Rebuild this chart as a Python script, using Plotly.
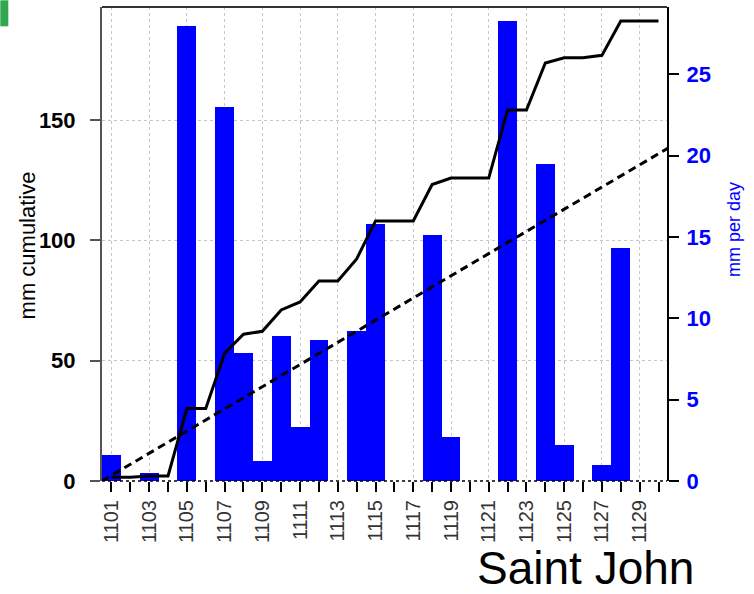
import plotly.graph_objects as go

# ---- data ----
days = [1101, 1102, 1103, 1104, 1105, 1106, 1107, 1108, 1109, 1110,
        1111, 1112, 1113, 1114, 1115, 1116, 1117, 1118, 1119, 1120,
        1121, 1122, 1123, 1124, 1125, 1126, 1127, 1128, 1129, 1130]
daily_mm = [1.6, 0, 0.5, 0, 28.0, 0, 23.0, 7.9, 1.2, 8.9,
            3.3, 8.7, 0, 9.2, 15.8, 0, 0, 15.1, 2.7, 0,
            0, 28.3, 0, 19.5, 2.2, 0, 1.0, 14.3, 0, 0]
cumulative_mm = [1.6, 1.6, 2.1, 2.1, 30.1, 30.1, 53.1, 61.0, 62.2, 71.1,
                 74.4, 83.1, 83.1, 92.3, 108.1, 108.1, 108.1, 123.2, 125.9, 125.9,
                 125.9, 154.2, 154.2, 173.7, 175.9, 175.9, 176.9, 191.2, 191.2, 191.2]
normal_days = [1100.5, 1130.5]
normal_cum = [0, 138.3]
label_days = [1101, 1103, 1105, 1107, 1109, 1111, 1113, 1115, 1117, 1119,
              1121, 1123, 1125, 1127, 1129]
label_text = ["1101", "1103", "1105", "1107", "1109", "1111", "1113", "1115",
              "1117", "1119", "1121", "1123", "1125", "1127", "1129"]
left_ticks = [0, 50, 100, 150]
right_ticks = [0, 5, 10, 15, 20, 25]

FONT = "Liberation Sans, Arial, sans-serif"

fig = go.Figure()
fig.add_trace(go.Bar(x=days, y=daily_mm, width=1.0, marker=dict(color="#0000ff", line=dict(width=0)),
                     yaxis="y", showlegend=False))
fig.add_trace(go.Scatter(x=normal_days, y=normal_cum, mode="lines", yaxis="y2",
                         line=dict(color="black", width=3, dash="8px,5px"), showlegend=False))
fig.add_trace(go.Scatter(x=days, y=cumulative_mm, mode="lines", yaxis="y2",
                         line=dict(color="black", width=3), showlegend=False))

fig.update_layout(
    width=754, height=594,
    margin=dict(l=102, r=87, t=7, b=113, autoexpand=False),
    paper_bgcolor="white", plot_bgcolor="white",
    font=dict(family=FONT),
    bargap=0,
    xaxis=dict(range=[1100.5, 1130.45], tickmode="array", tickvals=label_days, ticktext=label_text,
               tickangle=-90, ticks="outside", ticklen=10, tickwidth=2, tickcolor="black",
               tickfont=dict(size=20, color="#333333", family=FONT),
               showgrid=True, gridcolor="#c8c8c8", griddash="dot", gridwidth=1,
               showline=False, zeroline=False, layer="above traces",
               minor=dict(tick0=1101, dtick=1, ticks="outside", ticklen=10, tickwidth=2,
                          tickcolor="black", showgrid=False)),
    yaxis=dict(side="right", range=[0, 29.15], tickmode="array", tickvals=right_ticks,
               ticks="outside", ticklen=10, tickwidth=2, tickcolor="black",
               tickfont=dict(size=22, color="#0000ff", family=FONT, weight="bold"),
               ticklabelstandoff=3,
               showline=True, linecolor="black", linewidth=2,
               showgrid=False, zeroline=False),
    yaxis2=dict(overlaying="y", side="left", anchor="x", range=[0, 197], tickmode="array",
                tickvals=left_ticks, ticks="outside", ticklen=10, tickwidth=2, tickcolor="#555555",
                tickfont=dict(size=22, color="black", family=FONT, weight="bold"),
                ticklabelstandoff=10,
                showline=True, linecolor="#555555", linewidth=2,
                showgrid=True, gridcolor="#c8c8c8", griddash="dot", gridwidth=1,
                zeroline=False, layer="above traces"),
    shapes=[
        dict(type="line", xref="paper", yref="paper", x0=0, x1=1, y0=1, y1=1,
             line=dict(color="#333333", width=2), layer="above"),
        dict(type="line", xref="paper", yref="paper", x0=0, x1=1, y0=0, y1=0,
             line=dict(color="black", width=1.5, dash="dot"), layer="above"),
        dict(type="rect", xref="paper", yref="paper", x0=-0.18, x1=-0.1658, y0=0.9593, y1=1.0141,
             fillcolor="#2fa84f", line=dict(width=0), layer="above"),
    ],
    annotations=[
        dict(text="mm cumulative", xref="paper", yref="paper", x=-0.1322, y=0.4976,
             xanchor="center", yanchor="middle", textangle=-90, showarrow=False,
             font=dict(size=22, color="black", family=FONT)),
        dict(text="mm per day", xref="paper", yref="paper", x=1.119, y=0.530,
             xanchor="center", yanchor="middle", textangle=-90, showarrow=False,
             font=dict(size=18, color="#0000ff", family=FONT)),
        dict(text="Saint John", xref="paper", yref="paper", x=0.661, y=-0.183,
             xanchor="left", yanchor="middle", showarrow=False,
             font=dict(size=46, color="black", family=FONT)),
    ],
)

fig.write_html("out.html", config={"displayModeBar": False},
               post_script="document.body.style.margin='0px';document.body.style.overflow='hidden';")
